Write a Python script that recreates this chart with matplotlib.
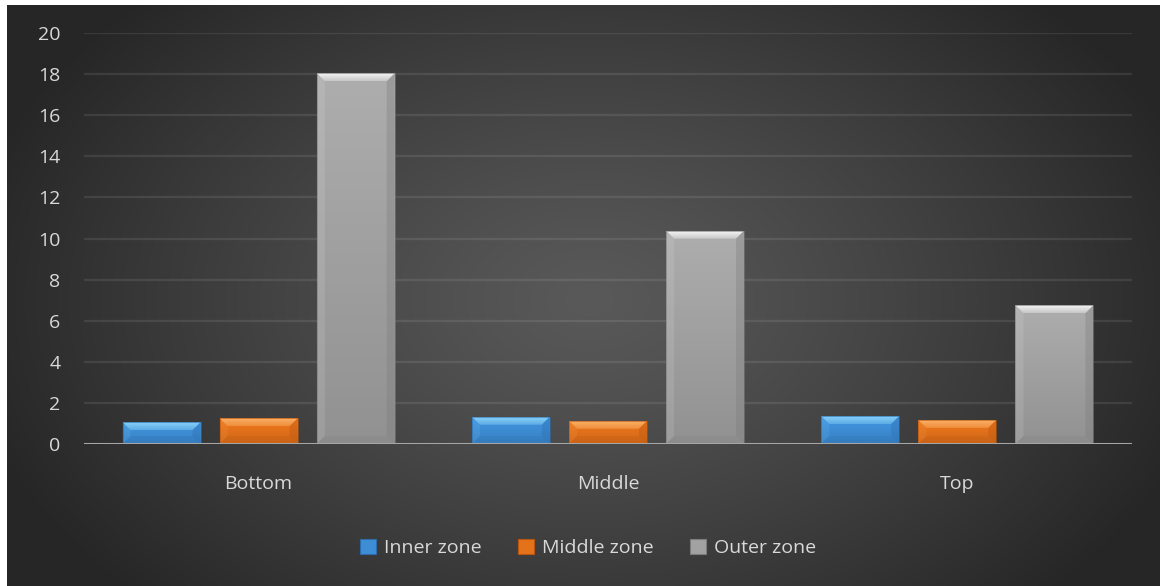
import numpy as np
import matplotlib
matplotlib.use("Agg")
import matplotlib.pyplot as plt
from matplotlib.patches import Polygon, Rectangle
from matplotlib.colors import to_rgb

# ── Data ──────────────────────────────────────────────────────────────────────
categories = ["Bottom", "Middle", "Top"]
series = ["Inner zone", "Middle zone", "Outer zone"]
inner_zone = [1.06, 1.33, 1.36]
middle_zone = [1.25, 1.13, 1.17]
outer_zone = [18.04, 10.38, 6.75]
y_ticks = [0, 2, 4, 6, 8, 10, 12, 14, 16, 18, 20]

# ── Style ─────────────────────────────────────────────────────────────────────
W, H = 1160, 586
TXT = "#d9d9d9"
FONT = "Open Sans"
FS = 14
# (face, light bevel, dark bevel)
COLS = [("#3e8ed6", "#86d0f8", "#2c6cab"),
        ("#e4721b", "#fbb066", "#b8560f"),
        ("#a2a2a2", "#f4f4f4", "#7c7c7c")]

fig = plt.figure(figsize=(W / 100, H / 100), dpi=100)
fig.patch.set_facecolor("white")

# dark radial background panel
bg = fig.add_axes([7 / W, 0, 1 - 7 / W, 1 - 5 / H])
bg.set_axis_off()
gx, gy = np.meshgrid(np.linspace(7, W, 400), np.linspace(5, H, 200))
d = np.sqrt(((gx - 590) / 640) ** 2 + ((gy - 300) / 430) ** 2)
d = np.clip(d, 0, 1) ** 1.2
c_in, c_out = np.array(to_rgb("#595959")), np.array(to_rgb("#262626"))
img = c_in[None, None, :] * (1 - d[..., None]) + c_out[None, None, :] * d[..., None]
bg.imshow(img, aspect="auto", extent=[0, 1, 0, 1], origin="upper")
bg.set_xlim(0, 1); bg.set_ylim(0, 1)

ax = fig.add_axes([84 / W, 142 / H, 1048 / W, 411 / H])
ax.set_facecolor("none")
ax.set_xlim(-0.5, 2.5)
ax.set_ylim(0, 20)
ax.set_yticks(y_ticks)
ax.set_yticklabels([str(t) for t in y_ticks], color=TXT, fontsize=FS, family=FONT)
ax.set_xticks(range(len(categories)))
ax.set_xticklabels(categories, color=TXT, fontsize=FS, family=FONT)
ax.tick_params(length=0)
ax.tick_params(axis="y", pad=17)
ax.tick_params(axis="x", pad=22)
for s in ax.spines.values():
    s.set_visible(False)
for t in y_ticks[1:]:
    ax.axhline(t, color="#ffffff", alpha=0.09, lw=1.6, zorder=0)

# pixel -> data scale for bevel sizes
px_x = 3.0 / 1048
px_y = 20.0 / 411
BEV = 8


def bevel_bar(x0, w, h, cols):
    face, light, dark = cols
    x1, y1 = x0 + w, h
    bx = BEV * px_x
    by = min(BEV * px_y, h * 0.42)
    # vertical gradient on the face
    fc = np.array(to_rgb(face))
    grad = np.linspace(1.07, 0.9, 64)[:, None, None] * fc[None, None, :]
    grad = np.clip(grad, 0, 1)
    im = ax.imshow(grad, extent=[x0, x1, 0, y1], aspect="auto", origin="upper", zorder=2)
    im.set_clip_path(Rectangle((x0, 0), w, h, transform=ax.transData))
    # top bevel: light gradient fading into the face
    top = Polygon([(x0, y1), (x1, y1), (x1 - bx, y1 - by), (x0 + bx, y1 - by)],
                  closed=True, fc="none", ec="none", zorder=3)
    ax.add_patch(top)
    lc = np.array(to_rgb(light))
    tg = np.linspace(0, 1, 16)[:, None, None]
    tgrad = lc[None, None, :] * (1 - tg * 0.55) + fc[None, None, :] * tg * 0.55
    tim = ax.imshow(tgrad, extent=[x0, x1, y1 - by, y1], aspect="auto",
                    origin="upper", zorder=3)
    tim.set_clip_path(top)
    # subtle side and bottom facets
    left = [(x0, 0), (x0, y1), (x0 + bx, y1 - by), (x0 + bx, by)]
    right = [(x1, 0), (x1, y1), (x1 - bx, y1 - by), (x1 - bx, by)]
    bot = [(x0, 0), (x1, 0), (x1 - bx, by), (x0 + bx, by)]
    ax.add_patch(Polygon(left, closed=True, fc=light, ec="none", alpha=0.12, zorder=3))
    ax.add_patch(Polygon(right, closed=True, fc=dark, ec="none", alpha=0.35, zorder=3))
    ax.add_patch(Polygon(bot, closed=True, fc=dark, ec="none", alpha=0.2, zorder=3))
    ax.add_patch(Rectangle((x0, 0), w, h, fc="none", ec=dark, lw=0.6, alpha=0.7, zorder=4))


x = np.arange(len(categories))
width = 0.223
step = 0.278
values = [inner_zone, middle_zone, outer_zone]
handles = []
for i, (vals, cols) in enumerate(zip(values, COLS)):
    offs = (i - 1) * step
    bars = ax.bar(x + offs, vals, width, color="none", zorder=1, label=series[i])
    for b in bars:
        bevel_bar(b.get_x(), b.get_width(), b.get_height(), cols)
    handles.append(Rectangle((0, 0), 1, 1, fc=cols[0], ec=cols[2], lw=0.8))

ax.axhline(0, color="#a6a6a6", lw=2.2, zorder=5)

leg = fig.legend(handles, series, loc="center", bbox_to_anchor=(588 / W, 38 / H),
                 ncol=3, frameon=False, handlelength=0.8, handleheight=0.8,
                 handletextpad=0.4, columnspacing=1.9,
                 prop={"family": FONT, "size": FS})
for t in leg.get_texts():
    t.set_color(TXT)

fig.savefig("out.png", dpi=100, facecolor="white")
